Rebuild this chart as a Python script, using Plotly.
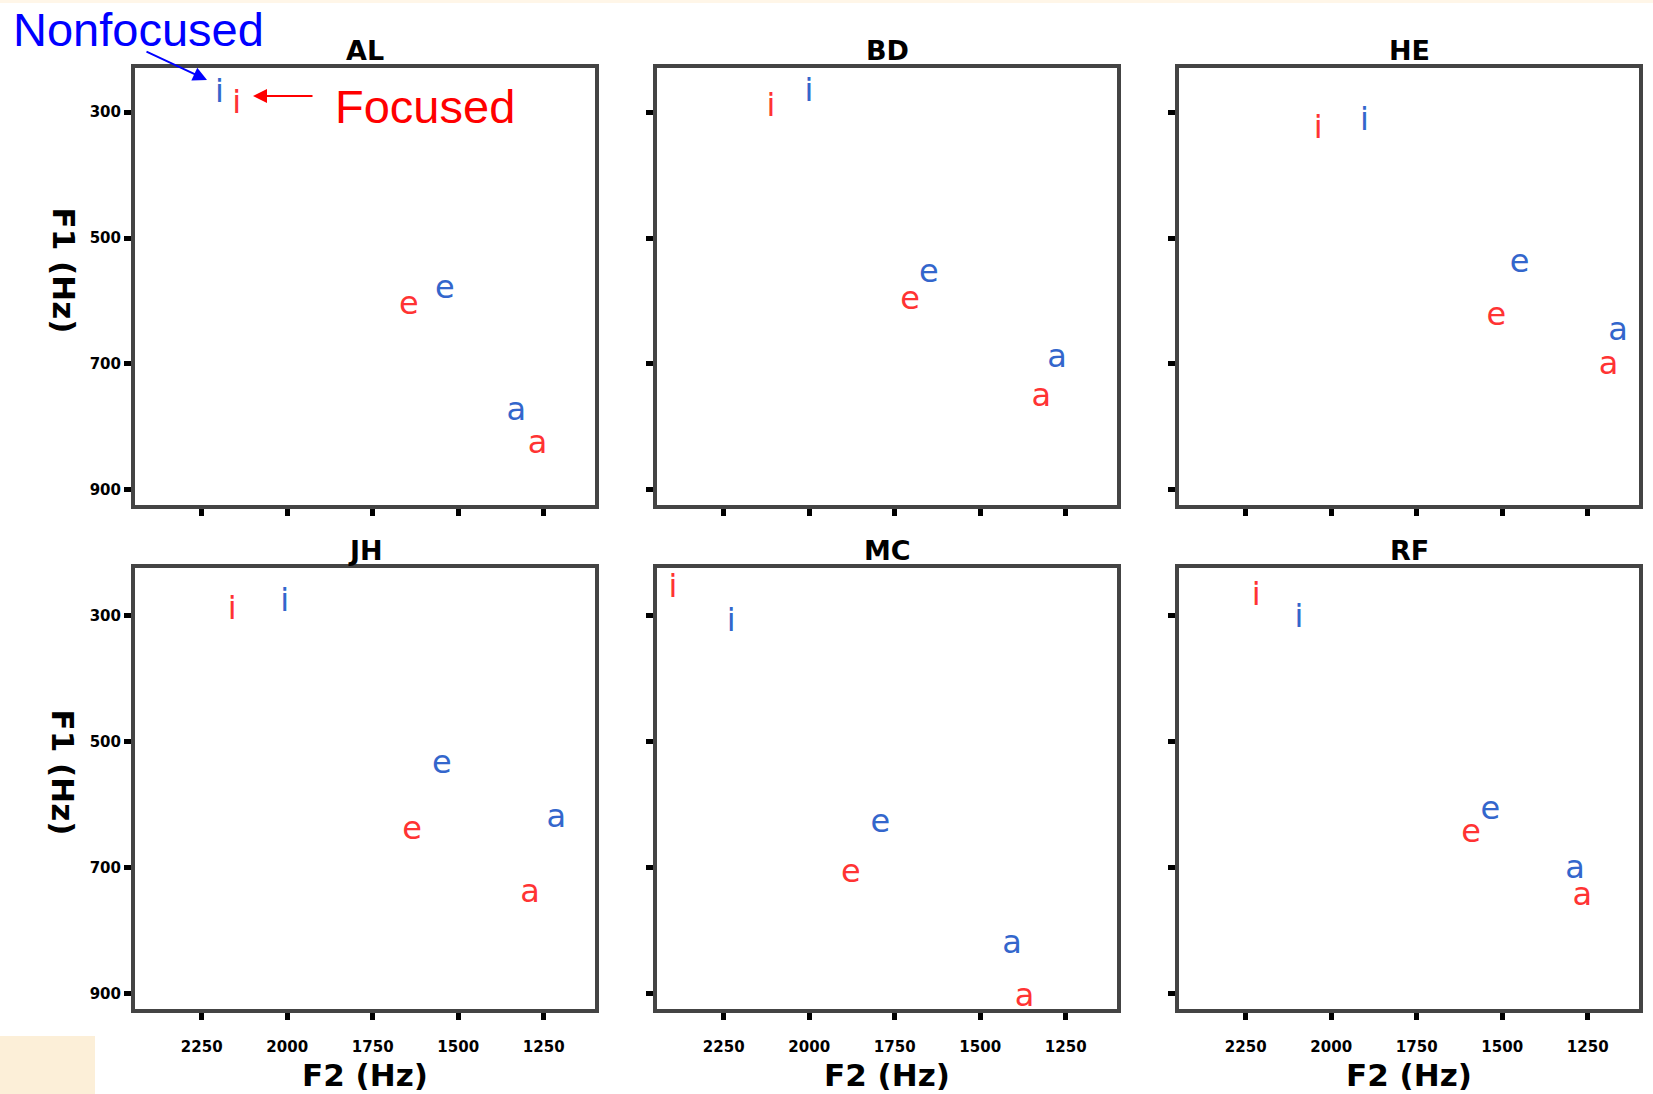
import plotly.graph_objects as go

W, H = 1653, 1094

speakers = ["AL", "BD", "HE", "JH", "MC", "RF"]
vowels = ["i", "e", "a"]

# F2 / F1 (Hz) for vowels i, e, a per speaker
f2_nonfocused = [[2198, 1539, 1330], [2001, 1650, 1275], [1903, 1449, 1161],
                 [2007, 1548, 1213], [2228, 1792, 1407], [2094, 1535, 1287]]
f1_nonfocused = [[271, 583, 776], [269, 557, 692], [316, 542, 650],
                 [281, 537, 623], [313, 631, 824], [306, 611, 705]]
f2_focused = [[2148, 1644, 1268], [2112, 1705, 1321], [2038, 1517, 1189],
              [2161, 1635, 1290], [2398, 1878, 1370], [2219, 1591, 1266]]
f1_focused = [[289, 608, 829], [294, 600, 754], [328, 625, 704],
              [294, 643, 743], [259, 710, 908], [271, 648, 747]]

x_ticks = [2250, 2000, 1750, 1500, 1250]
x_tick_labels = ["2250", "2000", "1750", "1500", "1250"]
y_ticks = [300, 500, 700, 900]
y_tick_labels = ["300", "500", "700", "900"]

BLUE = "#3366CC"
RED = "#FF3333"

# panel geometry in pixels
col_px = [(135, 595), (657, 1117), (1179, 1639)]
row_px = [(68, 505), (568, 1009)]
row_yrange = [[924, 230], [925, 225]]

fig = go.Figure()
annotations = []

for k, spk in enumerate(speakers):
    r, c = divmod(k, 3)
    n = k + 1
    xa = "x" if n == 1 else f"x{n}"
    ya = "y" if n == 1 else f"y{n}"
    fig.add_trace(go.Scatter(
        x=f2_nonfocused[k], y=f1_nonfocused[k], mode="text", text=vowels,
        textfont=dict(family="DejaVu Sans", size=32, color=BLUE),
        xaxis=xa, yaxis=ya, showlegend=False, hoverinfo="skip"))
    fig.add_trace(go.Scatter(
        x=f2_focused[k], y=f1_focused[k], mode="text", text=vowels,
        textfont=dict(family="DejaVu Sans", size=32, color=RED),
        xaxis=xa, yaxis=ya, showlegend=False, hoverinfo="skip"))

    x0, x1 = col_px[c]
    y0, y1 = row_px[r]
    axis_common = dict(showline=True, mirror=True, linewidth=4, linecolor="#444444",
                       ticks="outside", ticklen=7, tickwidth=5, tickcolor="black",
                       showgrid=False, zeroline=False,
                       tickfont=dict(family="DejaVu Sans", size=15, color="black", weight="bold"))
    xkey = "xaxis" if n == 1 else f"xaxis{n}"
    ykey = "yaxis" if n == 1 else f"yaxis{n}"
    fig.layout[xkey] = dict(
        domain=[x0 / W, x1 / W], range=[2445, 1100], anchor=ya,
        tickvals=x_ticks, ticktext=x_tick_labels,
        showticklabels=(r == 1), ticklabelstandoff=14, **axis_common)
    fig.layout[ykey] = dict(
        domain=[1 - y1 / H, 1 - y0 / H], range=row_yrange[r], anchor=xa,
        tickvals=y_ticks, ticktext=y_tick_labels,
        showticklabels=(c == 0), **axis_common)

    cx = (x0 + x1) / 2 / W
    annotations.append(dict(text=f"<b>{spk}</b>", x=cx, y=1 - (y0 - 18) / H,
                            xref="paper", yref="paper", showarrow=False,
                            font=dict(family="DejaVu Sans", size=27, color="black"),
                            xanchor="center", yanchor="middle"))
    if r == 1:
        annotations.append(dict(text="<b>F2 (Hz)</b>", x=cx, y=1 - 1075 / H,
                                xref="paper", yref="paper", showarrow=False,
                                font=dict(family="DejaVu Sans", size=31, color="black"),
                                xanchor="center", yanchor="middle"))
    if c == 0:
        annotations.append(dict(text="<b>F1 (Hz)</b>", x=63 / W,
                                y=1 - ((y0 + y1) / 2 - 16) / H,
                                xref="paper", yref="paper", showarrow=False, textangle=90,
                                font=dict(family="DejaVu Sans", size=31, color="black"),
                                xanchor="center", yanchor="middle"))

# legend-like labels with arrows
annotations.append(dict(text="Nonfocused", x=138 / W, y=1 - 30 / H, xref="paper", yref="paper",
                        showarrow=False, font=dict(family="Liberation Sans", size=47, color="#0000FF"),
                        xanchor="center", yanchor="middle"))
annotations.append(dict(text="Focused", x=425 / W, y=1 - 106 / H, xref="paper", yref="paper",
                        showarrow=False, font=dict(family="Liberation Sans", size=47, color="#FF0000"),
                        xanchor="center", yanchor="middle"))
annotations.append(dict(text="", x=207 / W, y=1 - 80 / H, xref="paper", yref="paper",
                        showarrow=True, ax=-62, ay=-29, arrowhead=2, arrowsize=1.4,
                        arrowwidth=2, arrowcolor="#0000FF"))
annotations.append(dict(text="", x=253 / W, y=1 - 96 / H, xref="paper", yref="paper",
                        showarrow=True, ax=61, ay=0, arrowhead=2, arrowsize=1.4,
                        arrowwidth=2, arrowcolor="#FF0000"))

shapes = [
    dict(type="rect", xref="paper", yref="paper", x0=0, x1=95 / W, y0=0, y1=1 - 1036 / H,
         fillcolor="#FCEFD8", line=dict(width=0), layer="below"),
    dict(type="rect", xref="paper", yref="paper", x0=0, x1=1, y0=1 - 3 / H, y1=1,
         fillcolor="#FFF6E8", line=dict(width=0), layer="below"),
]

fig.update_layout(width=W, height=H, margin=dict(l=0, r=0, t=0, b=0),
                  paper_bgcolor="white", plot_bgcolor="white",
                  annotations=annotations, shapes=shapes)

fig.write_html("out.html", config={"displayModeBar": False},
               post_script="document.body.style.margin='0';document.body.style.overflow='hidden';")
